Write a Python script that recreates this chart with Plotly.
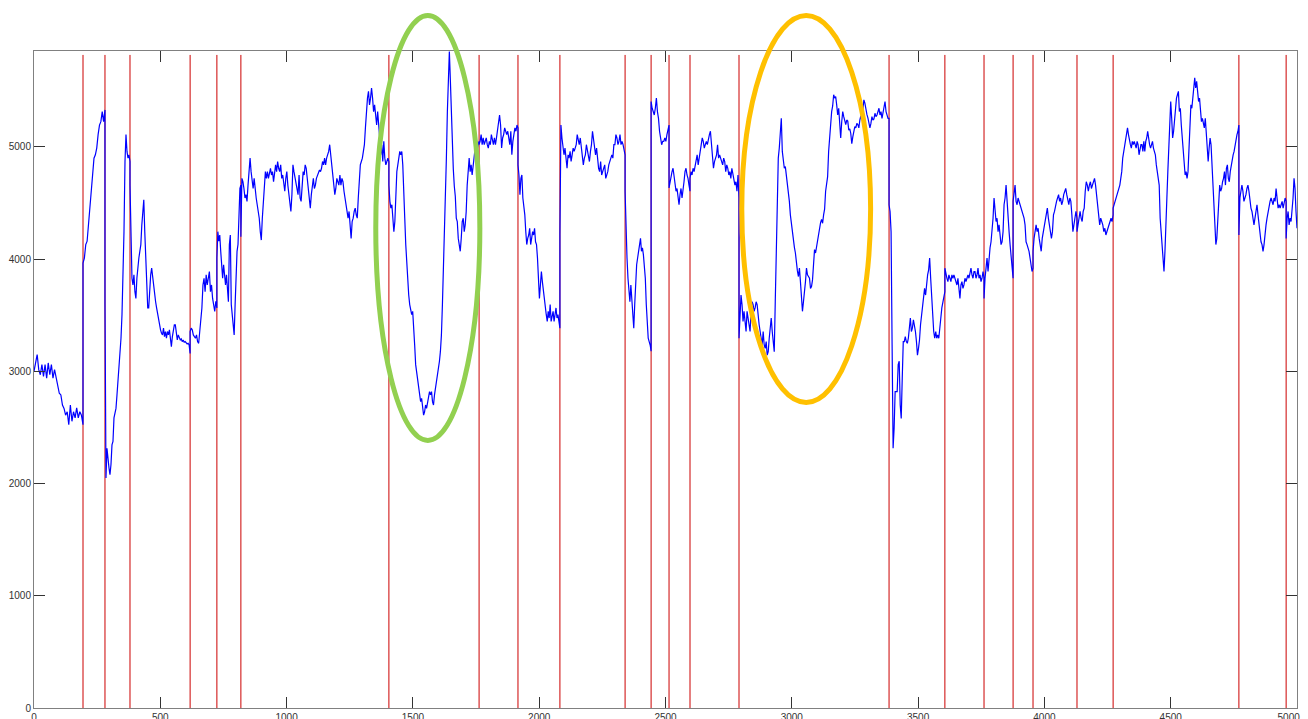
import numpy as np
import plotly.graph_objects as go

# Detected change points (sample index) separating the signal into regimes
change_points = [194, 281, 380, 618, 724, 819, 1405, 1762, 1916, 2082, 2340,
                 2443, 2514, 2597, 2791, 3385, 3606, 3761, 3876, 3955, 4129,
                 4272, 4770, 4957]
n_samples = 5000

# Signal level, one list per regime (between consecutive change points)
seg01 = [3000, 3090, 3150, 3015, 2970, 3060, 2955, 3060, 2940, 3075, 2970, 3060, 2940, 3015,
         2940, 2880, 2805, 2790, 2700, 2670, 2610, 2640, 2525, 2700, 2555, 2640, 2585, 2675,
         2585, 2640, 2610, 2525]
seg02 = [3965, 4010, 4130, 4160, 4305, 4515, 4660, 4780, 4900, 4930, 4990, 5110, 5195, 5225,
         5315, 5225, 5330]
seg03 = [3610, 2050, 2315, 2200, 2140, 2080, 2170, 2345, 2375, 2585, 2640, 2670, 2790, 2910,
         2970, 3135, 3295, 3505, 3830, 4245, 4870, 5110, 4960, 4900, 4930, 4870]
seg04 = [4660, 4130, 3830, 3770, 3860, 3710, 3650, 3830, 3950, 4010, 4070, 4130, 4305, 4455,
         4530, 4245, 3980, 3710, 3565, 3565, 3740, 3860, 3920, 3830, 3755, 3700, 3620, 3565,
         3505, 3445, 3430, 3370, 3340, 3325, 3385, 3310, 3355, 3295, 3355, 3325, 3370, 3250,
         3220, 3310, 3370, 3415, 3415, 3310, 3280, 3325, 3290, 3280, 3290, 3265, 3280, 3260,
         3265, 3250, 3245, 3250, 3235, 3160]
seg05 = [3355, 3385, 3370, 3325, 3310, 3295, 3325, 3265, 3250, 3355, 3475, 3565, 3770, 3830,
         3710, 3860, 3770, 3830, 3890, 3710, 3770, 3650, 3595, 3535, 3625, 3565]
seg06 = [4010, 4245, 4160, 4215, 4070, 3920, 3830, 3950, 3830, 3770, 3860, 3770, 3620, 4130,
         4215, 3595, 3475, 3355, 3325, 3595, 3860, 4070, 4130, 4425, 4630, 4660]
seg07 = [4200, 4720, 4690, 4630, 4545, 4575, 4515, 4660, 4840, 4900, 4780, 4720, 4630, 4720,
         4605, 4545, 4485, 4425, 4365, 4245, 4170, 4365, 4545, 4690, 4780, 4720, 4780, 4720,
         4780, 4810, 4750, 4780, 4690, 4780, 4840, 4780, 4870, 4810, 4780, 4840, 4720, 4750,
         4660, 4605, 4720, 4780, 4660, 4575, 4485, 4425, 4575, 4840, 4780, 4720, 4660, 4605,
         4575, 4750, 4545, 4515, 4660, 4780, 4750, 4840, 4810, 4720, 4630, 4515, 4455, 4575,
         4660, 4720, 4630, 4660, 4720, 4750, 4780, 4795, 4780, 4810, 4870, 4840, 4900, 4840,
         4900, 4930, 4960, 5020, 4930, 4870, 4750, 4660, 4575, 4630, 4720, 4690, 4660, 4750,
         4660, 4720, 4690, 4605, 4545, 4485, 4425, 4365, 4425, 4335, 4185, 4335, 4365, 4425,
         4455, 4395, 4365, 4545, 4720, 4840, 4870, 4900, 4960, 5020, 5170, 5315, 5435, 5495,
         5375, 5435, 5525, 5435, 5315, 5375, 5255, 5195, 5315, 5140, 5080, 4930, 5020, 4870,
         5050, 4900, 4840, 4870, 4900, 4870]
seg08 = [4660, 4515, 4455, 4485, 4365, 4245, 4335, 4575, 4780, 4840, 4900, 4960, 4930, 4960,
         4840, 4660, 4365, 4130, 3950, 3770, 3680, 3595, 3535, 3505, 3535, 3415, 3235, 3060,
         3000, 2940, 2850, 2790, 2730, 2760, 2670, 2610, 2640, 2700, 2670, 2730, 2760, 2820,
         2790, 2820, 2730, 2700, 2790, 2850, 2910, 2940, 3000, 3090, 3180, 3325, 3595, 3890,
         4130, 4485, 4900, 5315, 5730, 5850, 5600, 5250, 5000, 4800, 4650, 4560, 4365, 4335,
         4185, 4130, 4070, 4185, 4335, 4365, 4245, 4305, 4425, 4660, 4780, 4900, 4780, 4840,
         4750, 4840, 4960, 4990, 4930, 4990, 5020, 5050]
seg09 = [5020, 5050, 5110, 5020, 5080, 5020, 5050, 5080, 5020, 4990, 5050, 5020, 5110, 5050,
         5020, 5080, 5020, 5080, 5170, 5225, 5285, 5195, 4990, 5080, 5110, 5170, 5140, 5110,
         5140, 5080, 5020, 5140, 4930, 5050, 5140, 5170, 5140, 5195, 5170]
seg10 = [4840, 4750, 4575, 4720, 4750, 4545, 4485, 4395, 4245, 4130, 4185, 4215, 4275, 4130,
         4185, 4245, 4215, 4275, 4155, 4130, 4010, 3830, 3650, 3770, 3890, 3800, 3710, 3650,
         3565, 3505, 3445, 3535, 3475, 3595, 3445, 3505, 3535, 3445, 3505, 3565, 3475, 3505,
         3445, 3385]
seg11 = [4215, 5195, 5080, 5020, 4930, 4990, 4870, 4810, 4930, 4900, 4960, 4870, 4930, 4990,
         4960, 4990, 5020, 5110, 5050, 5020, 5080, 4990, 4930, 4840, 4900, 4930, 5020, 4960,
         4900, 4870, 4960, 5020, 5140, 5050, 5020, 4930, 4990, 4870, 4810, 4780, 4870, 4750,
         4780, 4810, 4840, 4720, 4750, 4780, 4840, 4870, 4900, 4930, 4900, 5020, 5020, 5110,
         5080, 5020, 5050, 5110, 5020, 5050, 5020, 4960, 4930]
seg12 = [4605, 4245, 4010, 3830, 3710, 3620, 3770, 3650, 3475, 3385, 3595, 3830, 3950, 4010,
         4070, 4130, 4185, 4070, 4100, 4040, 3950, 3830, 3595, 3415, 3295, 3265, 3235, 3180]
seg13 = [5405, 5345, 5315, 5285, 5345, 5435, 5315, 5255, 5140, 5080, 5020, 5050, 5050, 5080,
         5050, 5110, 5170, 5195]
seg14 = [4635, 4690, 4720, 4780, 4810, 4750, 4660, 4605, 4630, 4515, 4485, 4575, 4630, 4545,
         4660, 4690, 4780, 4810, 4750, 4720, 4660, 4605]
seg15 = [4720, 4780, 4750, 4810, 4780, 4840, 4870, 4930, 4840, 4900, 4960, 5020, 5080, 5050,
         4990, 5020, 5050, 5020, 5080, 5110, 5140, 5020, 4900, 4810, 4870, 4900, 4930, 5020,
         4900, 4930, 4900, 4870, 4840, 4900, 4870, 4780, 4840, 4810, 4750, 4780, 4720, 4810,
         4750, 4690, 4660, 4690, 4605, 4750, 4545]
seg16 = [3295, 3595, 3680, 3595, 3445, 3535, 3415, 3355, 3535, 3475, 3415, 3355, 3535, 3620,
         3595, 3535, 3565, 3620, 3595, 3475, 3415, 3355, 3295, 3235, 3355, 3235, 3205, 3265,
         3145, 3175, 3295, 3415, 3475, 3355, 3235, 3175, 3620, 3980, 4365, 4900, 4990, 5170,
         5255, 4960, 4885, 4810, 4825, 4750, 4675, 4620, 4515, 4395, 4320, 4215, 4140, 4105,
         4055, 3950, 3895, 3845, 3920, 3800, 3620, 3535, 3620, 3695, 3800, 3920, 3860, 3845,
         3830, 3740, 3755, 3815, 3950, 4085, 4055, 4115, 4170, 4230, 4290, 4325, 4355, 4320,
         4395, 4445, 4605, 4655, 4735, 4960, 5110, 5225, 5315, 5365, 5465, 5435, 5450, 5375,
         5285, 5345, 5225, 5080, 5225, 5315, 5270, 5230, 5200, 5240, 5230, 5150, 5160, 5120,
         5030, 5090, 5130, 5180, 5170, 5210, 5200, 5170, 5240, 5280, 5240, 5315, 5420, 5390,
         5330, 5290, 5260, 5210, 5170, 5210, 5270, 5240, 5250, 5300, 5270, 5285, 5315, 5345,
         5285, 5315, 5255, 5315, 5375, 5405, 5315, 5285, 5255, 5255]
seg17 = [4485, 4425, 4245, 3235, 2315, 2495, 2820, 2820, 2820, 3060, 3090, 2700, 2580, 2940,
         3265, 3265, 3310, 3265, 3250, 3295, 3415, 3475, 3355, 3385, 3460, 3415, 3355, 3265,
         3145, 3205, 3280, 3415, 3505, 3550, 3620, 3740, 3680, 3800, 3860, 3905, 4010, 3830,
         3650, 3535, 3355, 3295, 3355, 3295, 3325, 3295, 3415, 3475, 3565, 3620, 3680, 3710]
seg18 = [3920, 3860, 3830, 3800, 3860, 3830, 3800, 3860, 3830, 3860, 3830, 3800, 3770, 3830,
         3710, 3650, 3770, 3800, 3740, 3770, 3830, 3800, 3830, 3860, 3830, 3890, 3920, 3860,
         3830, 3890, 3890, 3830, 3860, 3920, 3830, 3860, 3800, 3830, 3890, 3830]
seg19 = [3650, 3830, 3950, 4010, 3890, 4040, 4100, 4155, 4245, 4365, 4545, 4425, 4335, 4365,
         4245, 4305, 4185, 4130, 4155, 4245, 4485, 4545, 4660, 4515, 4305, 4245, 4130, 4010,
         3950, 3830]
seg20 = [4515, 4575, 4660, 4515, 4485, 4545, 4515, 4485, 4455, 4425, 4395, 4365, 4305, 4155,
         4130, 4100, 4070, 4010, 3950, 3890, 3920]
seg21 = [4070, 4185, 4245, 4305, 4245, 4275, 4185, 4130, 4070, 4185, 4245, 4305, 4335, 4425,
         4455, 4365, 4305, 4245, 4185, 4245, 4395, 4425, 4485, 4515, 4545, 4575, 4515, 4545,
         4485, 4515, 4575, 4605, 4630, 4575, 4515, 4485, 4545, 4515, 4395, 4245, 4305, 4365,
         4425, 4365]
seg22 = [4245, 4305, 4365, 4425, 4365, 4335, 4425, 4455, 4605, 4690, 4660, 4605, 4660, 4690,
         4630, 4660, 4690, 4720, 4660, 4575, 4485, 4365, 4305, 4365, 4335, 4305, 4245, 4275,
         4215, 4245, 4275, 4305, 4335, 4365, 4335, 4395]
seg23 = [4455, 4485, 4515, 4545, 4575, 4605, 4630, 4660, 4720, 4780, 4900, 4960, 5020, 5050,
         5140, 5170, 5110, 5050, 5020, 4990, 5050, 5020, 5050, 5020, 4990, 5050, 5020, 4930,
         4990, 5020, 5020, 4960, 5050, 4960, 5050, 5080, 5140, 5050, 5020, 4990, 5020, 5050,
         4990, 4960, 4930, 4840, 4780, 4750, 4660, 4365, 4245, 4130, 4010, 3890, 4070, 4245,
         4545, 4780, 4960, 5195, 5405, 5255, 5080, 5140, 5225, 5375, 5435, 5465, 5495, 5315,
         5345, 5195, 5080, 4900, 4780, 4750, 4780, 4720, 4780, 5020, 5140, 5375, 5345, 5435,
         5525, 5615, 5525, 5585, 5495, 5405, 5435, 5315, 5225, 5255, 5195, 5170, 5255, 5140,
         5020, 4870, 4990, 5080, 5020, 4840, 4660, 4485, 4275, 4130, 4185, 4365, 4575, 4660,
         4605, 4630, 4690, 4720, 4780, 4660, 4810, 4840, 4720, 4690, 4780, 4840, 4870, 4930,
         4960, 5020, 5080, 5110, 5140, 5195]
seg24 = [4215, 4545, 4605, 4660, 4605, 4515, 4545, 4575, 4630, 4660, 4605, 4515, 4455, 4425,
         4335, 4305, 4365, 4455, 4485, 4395, 4305, 4245, 4155, 4130, 4070, 4130, 4245, 4305,
         4365, 4425, 4485, 4515, 4545, 4515, 4485, 4545, 4515, 4630, 4515, 4455, 4485, 4455,
         4485, 4515, 4455, 4515, 4545, 4515]
seg25 = [4185, 4365, 4425, 4305, 4365, 4335, 4425, 4545, 4720, 4630, 4425, 4275]

segments = [seg01, seg02, seg03, seg04, seg05, seg06, seg07, seg08, seg09, seg10,
            seg11, seg12, seg13, seg14, seg15, seg16, seg17, seg18, seg19, seg20,
            seg21, seg22, seg23, seg24, seg25]

# Regions of interest highlighted on the chart (sample-index spans)
highlight_green = (1353, 1765)
highlight_orange = (2802, 3312)

x_ticks = list(range(0, 5001, 500))
x_tick_text = [str(v) for v in x_ticks[:-1]] + ["5000\u2007\u2007\u2007"]
y_ticks = list(range(0, 5001, 1000))
y_max = 5855
cp_line_top = 5820

# Sample positions of each regime's readings, spread between its bounds
bounds = [0] + change_points + [n_samples]
xs, ys = [], []
for i, seg in enumerate(segments):
    xs.extend(np.linspace(bounds[i], bounds[i + 1], len(seg)).tolist())
    ys.extend(seg)

# Vertical markers at each change point
cp_x, cp_y = [], []
for cp in change_points:
    cp_x += [cp, cp, None]
    cp_y += [0, cp_line_top, None]

fig = go.Figure()
fig.add_trace(go.Scatter(x=cp_x, y=cp_y, mode="lines",
                         line=dict(color="#cc0000", width=1), hoverinfo="skip"))
fig.add_trace(go.Scatter(x=xs, y=ys, mode="lines",
                         line=dict(color="#0000ff", width=1.2)))

for (x0, x1), y0, color in [(highlight_green, 0.4072, "#92d050"),
                            (highlight_orange, 0.465, "#ffc000")]:
    fig.add_shape(type="circle", xref="x", yref="paper",
                  x0=x0, x1=x1, y0=y0, y1=1.054,
                  line=dict(color=color, width=5), layer="above")

axis_style = dict(
    showgrid=False, zeroline=False, showline=True, linecolor="#808080", linewidth=1,
    mirror="ticks", ticks="inside", ticklen=11, tickcolor="#333333", tickwidth=1,
    automargin=False, ticklabeloverflow="allow",
    tickfont=dict(family="Liberation Sans, Arial, sans-serif", size=10, color="#333333"),
)
fig.update_xaxes(range=[0, n_samples], tickvals=x_ticks, ticktext=x_tick_text, **axis_style)
fig.update_yaxes(range=[0, y_max], tickvals=y_ticks, **axis_style)

fig.update_layout(
    width=1308, height=719,
    margin=dict(l=34, r=11, t=51, b=11),
    paper_bgcolor="white", plot_bgcolor="white",
    showlegend=False,
)

fig.write_html("out.html")
